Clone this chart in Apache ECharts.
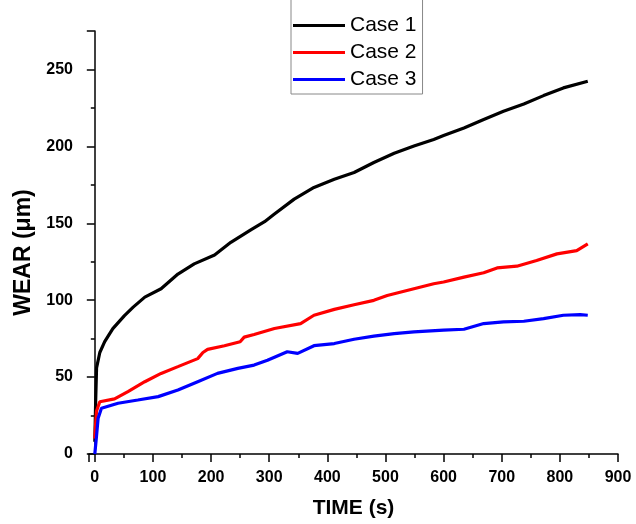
<!DOCTYPE html>
<html>
<head>
<meta charset="utf-8">
<script src="https://cdn.jsdelivr.net/npm/echarts@6/dist/echarts.min.js"></script>
<style>
  html, body { margin: 0; padding: 0; background: #fff; }
  #chart { width: 636px; height: 524px; }
</style>
</head>
<body>
<div id="chart"></div>
<script>
// time (s) and wear (um)
const case1Time = [0, 1.5, 3, 8.6, 17, 31, 51, 66, 86, 114, 143, 171, 206, 234, 269, 292, 309, 343, 377, 412, 446, 480, 515, 549, 583, 600, 635, 669, 703, 738, 772, 806, 848]
const case1Wear = [8, 35, 56, 66, 73, 81.5, 90, 95.5, 102, 107.4, 117, 123.6, 129.4, 137.6, 145.8, 151, 156, 165.7, 173.3, 178.6, 183, 189.5, 195.5, 200.2, 204.5, 207, 212, 217.5, 222.8, 227.6, 233, 238, 242.3]

const case2Time = [0, 1.5, 3, 8.6, 34, 57, 86, 114, 143, 177, 186, 194, 223, 250, 257, 274, 309, 354, 377, 412, 446, 480, 503, 537, 583, 600, 635, 669, 692, 726, 760, 795, 829, 848]
const case2Wear = [10, 20, 28, 34, 35.8, 40.6, 47, 52.4, 56.8, 62, 66, 68, 70.4, 73, 76, 77.7, 81.6, 84.8, 90.2, 94, 97, 99.9, 103, 106.3, 110.7, 111.8, 115, 117.8, 121, 122.1, 125.8, 130.1, 132.2, 136.6]

const case3Time = [0, 3, 5.7, 11.4, 40, 74, 109, 143, 177, 211, 246, 274, 297, 331, 349, 377, 412, 446, 480, 515, 549, 600, 635, 669, 703, 738, 772, 806, 835, 848]
const case3Wear = [0, 12, 23.3, 29.8, 33, 35.1, 37.3, 41.6, 47, 52.4, 55.7, 57.8, 61, 66.5, 65.4, 70.4, 71.8, 74.6, 76.6, 78.3, 79.4, 80.5, 81.1, 84.8, 85.9, 86.3, 88, 90.2, 90.6, 90.2]

const seriesNames = ['Case 1', 'Case 2', 'Case 3']
const seriesColors = ['#000000', '#ff0000', '#0000ff']

const font = '"Liberation Sans", Arial, sans-serif'

function pairs(xs, ys) {
  let out = []
  for (let i = 0; i < xs.length; i++) {
    out.push([xs[i], ys[i]])
  }
  return out
}

const allData = [
  pairs(case1Time, case1Wear),
  pairs(case2Time, case2Wear),
  pairs(case3Time, case3Wear)
]

let srs = []
for (const idx in seriesNames) {
  srs.push({
    name: seriesNames[idx],
    type: 'line',
    data: allData[idx],
    showSymbol: false,
    symbol: 'none',
    smooth: false,
    color: seriesColors[idx],
    lineStyle: { color: seriesColors[idx], width: 3.2 },
    animation: false
  })
}

const chart = echarts.init(document.getElementById('chart'))
chart.setOption({
  backgroundColor: '#fff',
  animation: false,
  grid: { left: 89, right: 18, top: 31, bottom: 67 },
  legend: {
    data: seriesNames,
    orient: 'vertical',
    left: 291,
    top: -1,
    padding: [16, 6, 4, 2],
    icon: 'rect',
    itemWidth: 52,
    itemHeight: 3,
    itemGap: 6,
    borderColor: '#888',
    borderWidth: 1,
    textStyle: { fontFamily: font, fontSize: 21, color: '#000' }
  },
  xAxis: {
    type: 'value',
    min: -10,
    max: 900,
    splitNumber: 9,
    name: 'TIME (s)',
    nameLocation: 'middle',
    nameGap: 44,
    nameTextStyle: { fontFamily: font, fontSize: 21, fontWeight: 'bold', color: '#000' },
    axisLine: { show: true, onZero: false, lineStyle: { color: '#000', width: 1.5 } },
    axisTick: { show: true, inside: false, length: 8, lineStyle: { color: '#000', width: 1.5 } },
    minorTick: { show: true, splitNumber: 2, length: 4, lineStyle: { color: '#000', width: 1.5 } },
    axisLabel: {
      margin: 16,
      hideOverlap: false,
      fontFamily: font, fontSize: 16, fontWeight: 'bold', color: '#000',
      formatter: v => (v < 0 ? '' : String(v))
    },
    splitLine: { show: false }
  },
  yAxis: {
    type: 'value',
    min: 0,
    max: 275,
    interval: 50,
    name: 'WEAR (μm)',
    nameLocation: 'middle',
    nameGap: 54,
    nameTextStyle: { fontFamily: font, fontSize: 23, fontWeight: 'bold', color: '#000', padding: [0, 20, 0, 0] },
    axisLine: { show: true, lineStyle: { color: '#000', width: 1.5 } },
    axisTick: { show: true, inside: false, length: 8, lineStyle: { color: '#000', width: 1.5 } },
    minorTick: { show: true, splitNumber: 2, length: 4, lineStyle: { color: '#000', width: 1.5 } },
    axisLabel: {
      margin: 16,
      showMaxLabel: false,
      fontFamily: font, fontSize: 16, fontWeight: 'bold', color: '#000'
    },
    splitLine: { show: false }
  },
  series: srs
})
</script>
</body>
</html>
